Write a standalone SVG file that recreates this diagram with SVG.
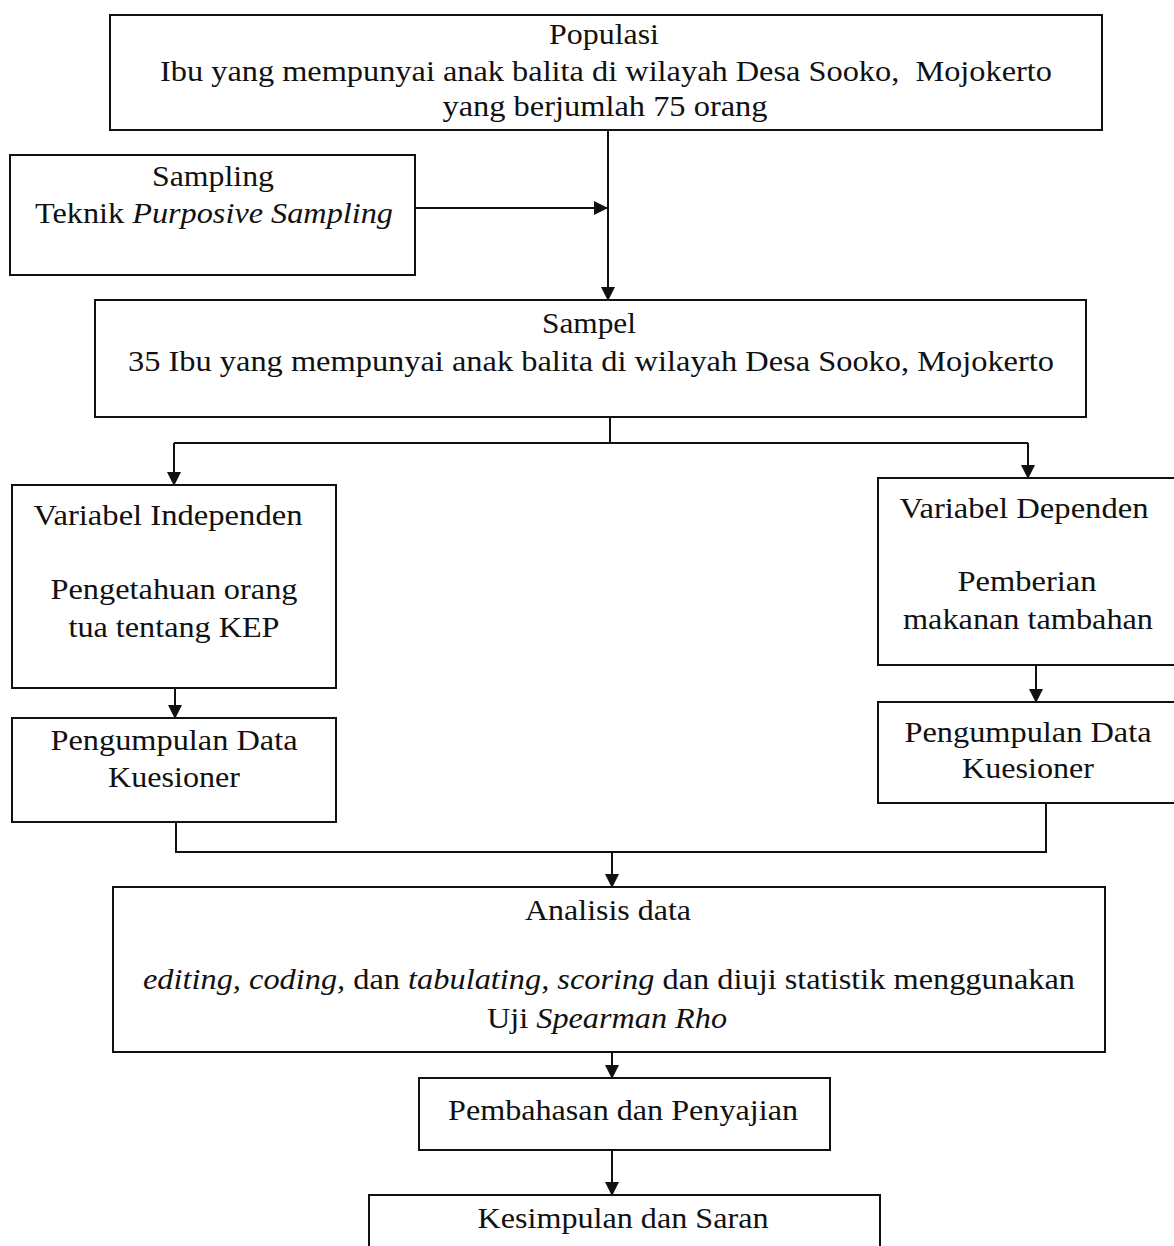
<svg xmlns="http://www.w3.org/2000/svg" width="1174" height="1246" viewBox="0 0 1174 1246">
<defs>
<marker id="ah" markerWidth="14" markerHeight="14" refX="13" refY="7" orient="auto" markerUnits="userSpaceOnUse">
<path d="M0,0 L14,7 L0,14 Z" fill="#111"/>
</marker>
<style>
.box{fill:#fff;stroke:#111;stroke-width:2}
.t{font-family:'Liberation Serif',Tinos,'Times New Roman',Times,serif;font-size:30px;fill:#111;text-anchor:middle}
.i{font-style:italic}
.c{fill:none;stroke:#111;stroke-width:2}
</style>
</defs>
<rect width="1174" height="1246" fill="#fff"/>
<g id="connectors">
<path class="c" d="M608,130 V300" marker-end="url(#ah)"/>
<path class="c" d="M415,208 H607" marker-end="url(#ah)"/>
<path class="c" d="M610,417 V443"/>
<path class="c" d="M174,443 H1028"/>
<path class="c" d="M174,443 V485" marker-end="url(#ah)"/>
<path class="c" d="M1028,443 V478" marker-end="url(#ah)"/>
<path class="c" d="M175,688 V718" marker-end="url(#ah)"/>
<path class="c" d="M1036,665 V702" marker-end="url(#ah)"/>
<path class="c" d="M176,822 V852 H1046 V803"/>
<path class="c" d="M612,851 V887" marker-end="url(#ah)"/>
<path class="c" d="M612,1052 V1078" marker-end="url(#ah)"/>
<path class="c" d="M612,1150 V1195" marker-end="url(#ah)"/>
</g>
<g id="populasi">
<rect class="box" x="110" y="15" width="992" height="115"/>
<text class="t" font-family="Liberation Serif, serif" x="604" y="44" textLength="110" lengthAdjust="spacingAndGlyphs">Populasi</text>
<text class="t" x="606" y="81" textLength="892" lengthAdjust="spacingAndGlyphs" xml:space="preserve">Ibu yang mempunyai anak balita di wilayah Desa Sooko,  Mojokerto</text>
<text class="t" x="605" y="116" textLength="325" lengthAdjust="spacingAndGlyphs">yang berjumlah 75 orang</text>
</g>
<g id="sampling">
<rect class="box" x="10" y="155" width="405" height="120"/>
<text class="t" x="213" y="186" textLength="122" lengthAdjust="spacingAndGlyphs">Sampling</text>
<text class="t" x="214" y="223" textLength="358" lengthAdjust="spacingAndGlyphs">Teknik <tspan class="i">Purposive Sampling</tspan></text>
</g>
<g id="sampel">
<rect class="box" x="95" y="300" width="991" height="117"/>
<text class="t" x="589" y="333" textLength="94" lengthAdjust="spacingAndGlyphs">Sampel</text>
<text class="t" x="591" y="371" textLength="926" lengthAdjust="spacingAndGlyphs">35 Ibu yang mempunyai anak balita di wilayah Desa Sooko, Mojokerto</text>
</g>
<g id="var-independen">
<rect class="box" x="12" y="485" width="324" height="203"/>
<text class="t" x="168" y="525" textLength="269" lengthAdjust="spacingAndGlyphs">Variabel Independen</text>
<text class="t" x="174" y="599" textLength="247" lengthAdjust="spacingAndGlyphs">Pengetahuan orang</text>
<text class="t" x="174" y="637" textLength="211" lengthAdjust="spacingAndGlyphs">tua tentang KEP</text>
</g>
<g id="pengumpulan-kiri">
<rect class="box" x="12" y="718" width="324" height="104"/>
<text class="t" x="174" y="750" textLength="247" lengthAdjust="spacingAndGlyphs">Pengumpulan Data</text>
<text class="t" x="174" y="787" textLength="132" lengthAdjust="spacingAndGlyphs">Kuesioner</text>
</g>
<g id="var-dependen">
<rect class="box" x="878" y="478" width="300" height="187"/>
<text class="t" x="1024" y="518" textLength="249" lengthAdjust="spacingAndGlyphs">Variabel Dependen</text>
<text class="t" x="1027" y="591" textLength="139" lengthAdjust="spacingAndGlyphs">Pemberian</text>
<text class="t" x="1028" y="629" textLength="250" lengthAdjust="spacingAndGlyphs">makanan tambahan</text>
</g>
<g id="pengumpulan-kanan">
<rect class="box" x="878" y="702" width="300" height="101"/>
<text class="t" x="1028" y="742" textLength="247" lengthAdjust="spacingAndGlyphs">Pengumpulan Data</text>
<text class="t" x="1028" y="778" textLength="132" lengthAdjust="spacingAndGlyphs">Kuesioner</text>
</g>
<g id="analisis">
<rect class="box" x="113" y="887" width="992" height="165"/>
<text class="t" x="608" y="920" textLength="166" lengthAdjust="spacingAndGlyphs">Analisis data</text>
<text class="t" x="609" y="989" textLength="932" lengthAdjust="spacingAndGlyphs"><tspan class="i">editing, coding,</tspan> dan <tspan class="i">tabulating, scoring</tspan> dan diuji statistik menggunakan</text>
<text class="t" x="607" y="1028" textLength="240" lengthAdjust="spacingAndGlyphs">Uji <tspan class="i">Spearman Rho</tspan></text>
</g>
<g id="pembahasan">
<rect class="box" x="419" y="1078" width="411" height="72"/>
<text class="t" x="623" y="1120" textLength="350" lengthAdjust="spacingAndGlyphs">Pembahasan dan Penyajian</text>
</g>
<g id="kesimpulan">
<rect class="box" x="369" y="1195" width="511" height="60"/>
<text class="t" x="623" y="1228" textLength="291" lengthAdjust="spacingAndGlyphs">Kesimpulan dan Saran</text>
</g>
</svg>
